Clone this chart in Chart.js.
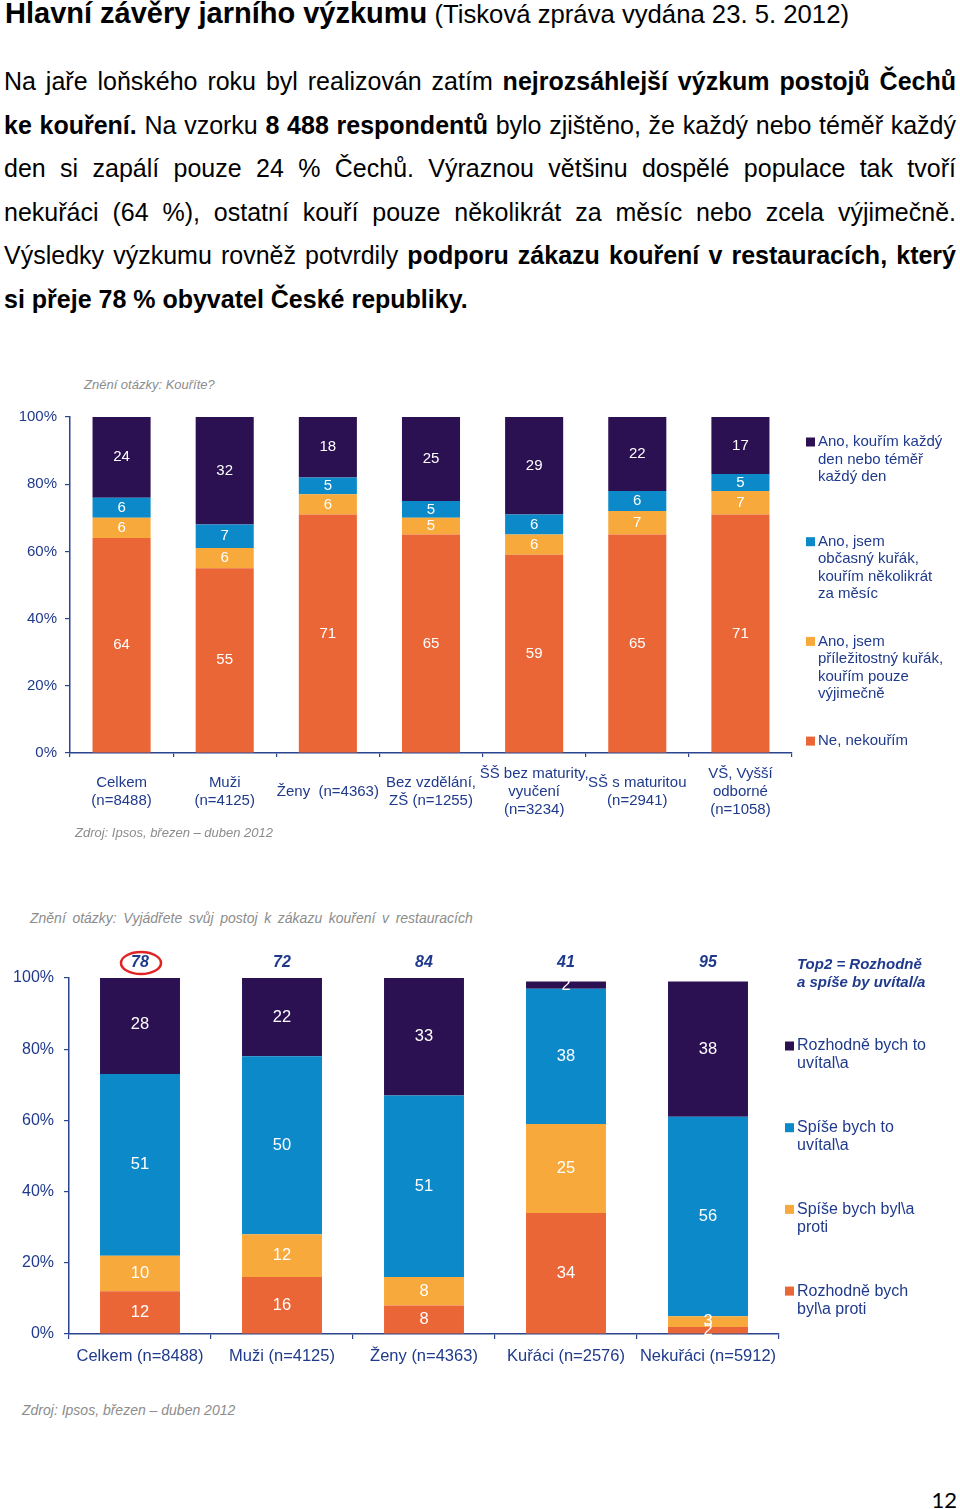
<!DOCTYPE html>
<html><head><meta charset="utf-8">
<script src="https://cdn.jsdelivr.net/npm/chart.js@4/dist/chart.umd.min.js"></script>
<style>
body{margin:0;background:#fff;font-family:"Liberation Sans",Arial,sans-serif;}
#page{position:relative;width:960px;height:1509px;overflow:hidden;background:#fff;}
.abs{position:absolute;}
#title{left:5px;top:-2px;white-space:nowrap;line-height:30px;color:#000;}
#title b{font-size:29px;}
#title span{font-size:25.7px;}
#para{left:4px;top:60px;width:952px;font-size:25px;line-height:43.5px;color:#000;}
#para div{text-align:justify;text-align-last:justify;}
#para div.last{text-align-last:left;}
.note{color:#8c8c8c;font-style:italic;white-space:nowrap;}
#pg{right:3px;top:1486px;font-family:Lato,"Liberation Sans",sans-serif;font-size:22px;color:#000;}
</style></head>
<body><div id="page">
<div id="title" class="abs"><b>Hlavní závěry jarního výzkumu</b><span> (Tisková zpráva vydána 23. 5. 2012)</span></div>
<div id="para" class="abs">
<div>Na jaře loňského roku byl realizován zatím <b>nejrozsáhlejší výzkum postojů Čechů</b></div>
<div><b>ke kouření.</b> Na vzorku <b>8 488 respondentů</b> bylo zjištěno, že každý nebo téměř každý</div>
<div>den si zapálí pouze 24 % Čechů. Výraznou většinu dospělé populace tak tvoří</div>
<div>nekuřáci (64 %), ostatní kouří pouze několikrát za měsíc nebo zcela výjimečně.</div>
<div>Výsledky výzkumu rovněž potvrdily <b>podporu zákazu kouření v restauracích, který</b></div>
<div class="last"><b>si přeje 78 % obyvatel České republiky.</b></div>
</div>
<div class="abs note" style="left:84px;top:377px;font-size:13px;">Znění otázky: Kouříte?</div>
<div class="abs" style="left:0;top:395px;width:960px;height:440px;"><canvas id="c1" width="960" height="440"></canvas></div>
<div class="abs note" style="left:75px;top:825px;font-size:13px;">Zdroj: Ipsos, březen – duben 2012</div>
<div class="abs note" style="left:30px;top:910px;font-size:14px;word-spacing:2.7px;">Znění otázky: Vyjádřete svůj postoj k zákazu kouření v restauracích</div>
<div class="abs" style="left:0;top:940px;width:960px;height:430px;"><canvas id="c2" width="960" height="430"></canvas></div>
<div class="abs note" style="left:22px;top:1402px;font-size:14px;">Zdroj: Ipsos, březen – duben 2012</div>
<div id="pg" class="abs">12</div>
</div>
<script>
// ---------- DATA ----------
const categories1 = [["Celkem","(n=8488)"],["Muži","(n=4125)"],"Ženy  (n=4363)",["Bez vzdělání,","ZŠ (n=1255)"],["ŠŠ bez maturity,","vyučení","(n=3234)"],["SŠ s maturitou","(n=2941)"],["VŠ, Vyšší","odborné","(n=1058)"]];
const nonSmokers   = [64,55,71,65,59,65,71];
const rareSmokers  = [6,6,6,5,6,7,7];
const occasional   = [6,7,5,5,6,6,5];
const dailySmokers = [24,32,18,25,29,22,17];
const seriesNames1 = ["Ne, nekouřím","Ano, jsem\npříležitostný kuřák,\nkouřím pouze\nvýjimečně","Ano, jsem\nobčasný kuřák,\nkouřím několikrát\nza měsíc","Ano, kouřím každý\nden nebo téměř\nkaždý den"];

const categories2 = ["Celkem (n=8488)","Muži (n=4125)","Ženy (n=4363)","Kuřáci (n=2576)","Nekuřáci (n=5912)"];
const definitelyAgainst = [12,16,8,34,2];
const ratherAgainst     = [10,12,8,25,3];
const ratherWelcome     = [51,50,51,38,56];
const definitelyWelcome = [28,22,33,2,38];
const top2 = [78,72,84,41,95];
const seriesNames2 = ["Rozhodně bych\nbyl\\a proti","Spíše bych byl\\a\nproti","Spíše bych to\nuvítal\\a","Rozhodně bych to\nuvítal\\a"];
const top2Note = ["Top2 = Rozhodně","a spíše by uvítal/a"];
const yTicks = [0,20,40,60,80,100];

// ---------- STYLE ----------
const C_ORANGE='#EB6637', C_YELLOW='#F8A93B', C_BLUE='#0B89C9', C_DARK='#2B1152';
const AXIS='#2A4590', TXT='#1F3A8C';
Chart.defaults.font.family='"Liberation Sans", Arial, sans-serif';
Chart.defaults.animation=false;

const segLabels={id:'segLabels',afterDatasetsDraw(chart,a,o){
  const ctx=chart.ctx;ctx.save();ctx.font=o.font;ctx.fillStyle='#fff';ctx.textAlign='center';ctx.textBaseline='middle';
  chart.data.datasets.forEach((ds,i)=>{chart.getDatasetMeta(i).data.forEach((el,j)=>{
    ctx.fillText(String(ds.data[j]),el.x,(el.y+el.base)/2);});});
  ctx.restore();}};

const sideLegend={id:'sideLegend',afterDraw(chart,a,o){
  const ctx=chart.ctx;ctx.save();ctx.textBaseline='middle';ctx.textAlign='left';
  const ca=chart.chartArea;
  if(o.note){ctx.font=o.noteFont;ctx.fillStyle=TXT;o.note.forEach((l,k)=>ctx.fillText(l,o.textX,ca.top+o.noteY+k*o.lh));}
  const ds=chart.data.datasets.slice().reverse();
  ds.forEach((d,i)=>{const y=ca.top+o.y0+i*o.spacing;
    ctx.fillStyle=d.backgroundColor;ctx.fillRect(o.boxX,y-o.box/2,o.box,o.box);
    ctx.font=o.font;ctx.fillStyle=TXT;
    d.label.split('\n').forEach((l,k)=>ctx.fillText(l,o.textX,y+k*o.lh));});
  ctx.restore();}};

const top2Plugin={id:'top2Plugin',afterDatasetsDraw(chart,a,o){
  if(!o.values)return;
  const ctx=chart.ctx;ctx.save();ctx.font=o.font;ctx.fillStyle=TXT;ctx.textAlign='center';ctx.textBaseline='middle';
  const meta=chart.getDatasetMeta(0);const y=chart.scales.y.getPixelForValue(100)-o.gap;
  o.values.forEach((v,j)=>{ctx.fillText(String(v),meta.data[j].x,y);});
  const x0=meta.data[0].x;ctx.strokeStyle='#E02424';ctx.lineWidth=2.5;ctx.beginPath();ctx.ellipse(x0+1,y,20,11,0,0,Math.PI*2);ctx.stroke();
  ctx.restore();}};

function makeChart(id,cats,series,colors,names,cfg){
  return new Chart(document.getElementById(id),{type:'bar',
    data:{labels:cats,datasets:series.map((s,i)=>({label:names[i],data:s,backgroundColor:colors[i],borderWidth:0,clip:0,barPercentage:1,categoryPercentage:0.563}))},
    options:{responsive:false,maintainAspectRatio:false,
      layout:{padding:{left:0,top:cfg.padTop,right:cfg.padRight,bottom:0}},
      plugins:{legend:{display:false},tooltip:{enabled:false},
        segLabels:{font:cfg.labelFont},
        sideLegend:cfg.legend,
        top2Plugin:cfg.top2||{}},
      scales:{
        x:{stacked:true,grid:{drawOnChartArea:false,offset:true,tickLength:cfg.xTick,color:AXIS,lineWidth:1.2},border:{color:AXIS,width:1.5},
           ticks:{color:TXT,font:{size:cfg.xFont,lineHeight:cfg.xLH},padding:cfg.xPad,maxRotation:0,autoSkip:false,crossAlign:cfg.crossAlign},
           afterFit(s){s.height=cfg.xH;}},
        y:{stacked:true,min:0,max:100,afterBuildTicks(s){s.ticks=yTicks.map(v=>({value:v}));},
           grid:{drawOnChartArea:false,tickLength:5,color:AXIS,lineWidth:1.2},border:{color:AXIS,width:1.5},
           ticks:{color:TXT,font:{size:cfg.yFont},padding:cfg.yPad,callback:v=>v+'%'},
           afterFit(s){s.width=cfg.yW;}}
      }},
    plugins:[segLabels,sideLegend,top2Plugin]});
}

makeChart('c1',categories1,[nonSmokers,rareSmokers,occasional,dailySmokers],[C_ORANGE,C_YELLOW,C_BLUE,C_DARK],seriesNames1,
  {padTop:22,padRight:168,xH:82,yW:70,xTick:4,xFont:15,xLH:1.2,xPad:17,yFont:15,yPad:8,crossAlign:'center',labelFont:'15px "Liberation Sans", Arial',
   legend:{boxX:806,box:9,textX:818,y0:25,spacing:99.7,lh:17.5,font:'15px "Liberation Sans", Arial'}});

makeChart('c2',categories2,[definitelyAgainst,ratherAgainst,ratherWelcome,definitelyWelcome],[C_ORANGE,C_YELLOW,C_BLUE,C_DARK],seriesNames2,
  {padTop:38,padRight:181,xH:36,yW:69,xTick:5,xFont:16.5,xLH:1.2,xPad:8,yFont:16,yPad:10,crossAlign:'near',labelFont:'16.5px "Liberation Sans", Arial',
   legend:{boxX:785,box:9,textX:797,y0:68,spacing:81.7,lh:18,font:'16px "Liberation Sans", Arial',
     note:top2Note,noteY:-13,noteFont:'italic bold 15px "Liberation Sans", Arial'},
   top2:{values:top2,gap:15,font:'italic bold 16px "Liberation Sans", Arial'}});
</script>
</body></html>
